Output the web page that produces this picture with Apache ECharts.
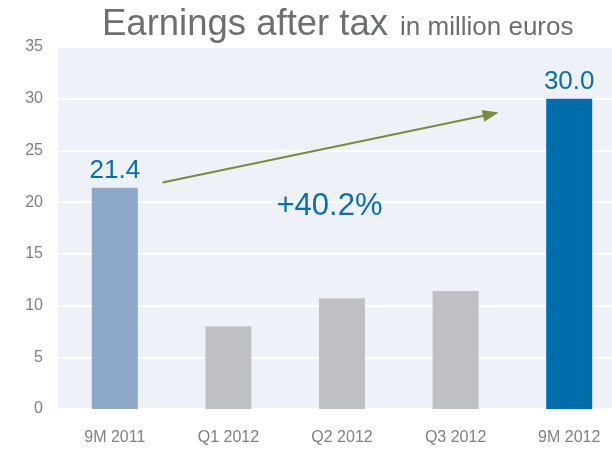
<!DOCTYPE html>
<html>
<head>
<meta charset="utf-8">
<script src="https://cdn.jsdelivr.net/npm/echarts@6/dist/echarts.min.js"></script>
<style>
  html, body { margin: 0; padding: 0; background: #ffffff; overflow: hidden; }
  /* the plot runs past the right page edge, so the canvas is a little wider than the page */
  #chart { width: 626px; height: 449px; }
</style>
</head>
<body>
<div id="chart"></div>
<script>
// Earnings after tax, in million euros
const categories = ['9M 2011', 'Q1 2012', 'Q2 2012', 'Q3 2012', '9M 2012'];
const earnings = [21.4, 8.0, 10.7, 11.4, 30.0];
const barColors = ['#8DA8C8', '#BFC0C4', '#BFC0C4', '#BFC0C4', '#006EAA'];
const labelled = [true, false, false, false, true];
const yTicks = { min: 0, max: 35, interval: 5 };

// Growth arrow from the 9M 2011 bar towards the 9M 2012 bar (x in category units)
const arrowFrom = [0.42, 21.9];
const arrowTo = [3.31, 28.5];
const growthLabelAt = [1.89, 19.6];
const growth = ((earnings[4] - earnings[0]) / earnings[0] * 100).toFixed(1);

const font = 'Liberation Sans, Arial, sans-serif';
const chart = echarts.init(document.getElementById('chart'), null, { renderer: 'canvas' });

chart.setOption({
  animation: false,
  title: {
    text: '{a|Earnings after tax}{b|in million euros}',
    left: 97,
    top: 1,
    textStyle: {
      fontWeight: 'normal',
      rich: {
        a: { fontFamily: font, fontSize: 36.5, fontWeight: 'normal', color: '#6D6E71', verticalAlign: 'bottom' },
        b: { fontFamily: font, fontSize: 26, fontWeight: 'normal', color: '#6D6E71', verticalAlign: 'bottom', padding: [0, 0, 2, 12] }
      }
    }
  },
  grid: {
    left: 58,
    right: 0,
    top: 47,
    bottom: 40,
    show: true,
    backgroundColor: '#EEF2F8',
    borderWidth: 0
  },
  xAxis: [{
    type: 'category',
    data: categories,
    axisLine: { show: false },
    axisTick: { show: false },
    axisLabel: { color: '#808080', fontFamily: font, fontSize: 16, margin: 21 }
  }, {
    type: 'value',
    min: -0.5,
    max: 4.5,
    show: false
  }],
  yAxis: {
    type: 'value',
    min: yTicks.min,
    max: yTicks.max,
    interval: yTicks.interval,
    axisLine: { show: false },
    axisTick: { show: false },
    axisLabel: { color: '#808080', fontFamily: font, fontSize: 16, margin: 15 },
    splitLine: { show: true, lineStyle: { color: '#FFFFFF', width: 2 } }
  },
  series: [{
    type: 'bar',
    barWidth: '40.5%',
    data: earnings.map((v, i) => ({
      value: v,
      itemStyle: { color: barColors[i] },
      label: {
        show: labelled[i],
        position: 'top',
        distance: 4,
        formatter: (p) => p.value.toFixed(1),
        color: '#0A6EAA',
        fontFamily: font,
        fontSize: 26
      }
    }))
  }, {
    type: 'scatter',
    xAxisIndex: 1,
    symbolSize: 0,
    itemStyle: { opacity: 1 },
    data: [growthLabelAt],
    label: {
      show: true,
      position: 'inside',
      formatter: '+' + growth + '%',
      color: '#0A6EAA',
      fontFamily: font,
      fontSize: 31
    },
    markLine: {
      silent: true,
      symbol: ['none', 'triangle'],
      symbolSize: [12, 16],
      lineStyle: { color: '#7A8A3E', width: 2, type: 'solid' },
      label: { show: false },
      data: [[{ coord: arrowFrom }, { coord: arrowTo }]]
    }
  }]
});
</script>
</body>
</html>
